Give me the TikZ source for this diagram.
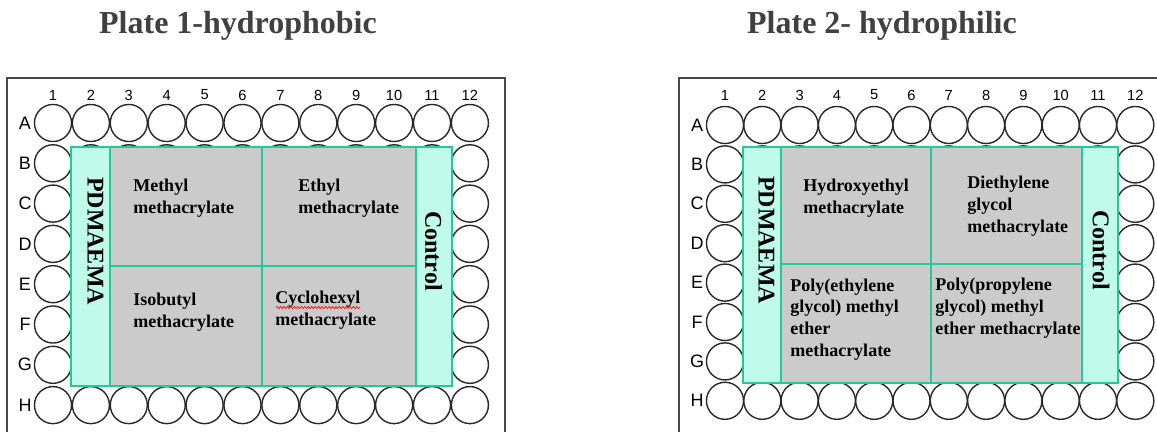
\documentclass[tikz,border=0pt]{standalone}
\usepackage{fontspec}
\setmainfont{Liberation Serif}
\setsansfont{Liberation Sans}
\usetikzlibrary{decorations.pathmorphing}

\definecolor{stripfill}{RGB}{192,250,232}
\definecolor{stripline}{RGB}{40,200,150}
\definecolor{cellfill}{RGB}{203,203,203}
\definecolor{titlegray}{RGB}{64,64,64}
\definecolor{wellline}{RGB}{40,40,40}

\tikzset{
  well/.style={circle, draw=wellline, line width=1.05pt, minimum size=27.8pt, inner sep=0pt},
  rowlab/.style={font=\sffamily\fontsize{13.5}{14}\selectfont, inner sep=0pt},
  collab/.style={font=\sffamily\fontsize{11}{12}\selectfont, inner sep=0pt},
  platebox/.style={draw=wellline!85, line width=1pt},
  strip/.style={fill=stripfill, draw=stripline, line width=1pt},
  cell/.style={fill=cellfill, draw=stripline, line width=1pt},
  % anchored at the baseline of the last line
  celltext/.style={anchor=base west, inner sep=0pt, align=left,
    font=\bfseries\fontsize{13.5}{16.2}\selectfont},
  striptext/.style={rotate=-90, inner sep=0pt, font=\bfseries\fontsize{18}{20}\selectfont},
  platetitle/.style={anchor=base, inner sep=0pt, text=titlegray,
    font=\bfseries\fontsize{24}{28}\selectfont}
}

\begin{document}
\begin{tikzpicture}[x=0.75pt, y=-0.75pt]
\useasboundingbox (0,0) rectangle (1157,432);
\clip (0,0) rectangle (1157,432);

% titles
\node[platetitle] (title1) at (238,33) {Plate 1-hydrophobic};
\node[platetitle] (title2) at (882,33) {Plate 2- hydrophilic};

% plate 1
\begin{scope}
  \draw[platebox] (7,78) rectangle (505,445);
  \foreach \c in {1,...,12}
    \node[collab] (p1-col\c) at ({53+(\c-1)*37.9},95) {\c};
  \foreach \r [count=\i] in {A,B,C,D,E,F,G,H} {
    \node[rowlab] (p1-row\r) at (25,{123+(\i-1)*40.3}) {\r};
    \foreach \c in {1,...,12}
      \node[well] (p1-\r\c) at ({53+(\c-1)*37.9},{123+(\i-1)*40.3}) {};
  }
  % treated wells
  \draw[strip] (71,147) rectangle (110,386);
  \draw[cell] (110,147) rectangle (262,266);
  \draw[cell] (262,147) rectangle (416,266);
  \draw[cell] (110,266) rectangle (262,386);
  \draw[cell] (262,266) rectangle (416,386);
  \draw[strip] (416,147) rectangle (452,386);
  \node[striptext] (p1-pdmaema) at (95.5,241) {PDMAEMA};
  \node[striptext] (p1-control) at (433.5,251) {Control};
  \node[celltext] (p1-mma) at (133,213) {Methyl\\methacrylate};
  \node[celltext] (p1-ema) at (298,213) {Ethyl\\methacrylate};
  \node[celltext] (p1-ibma) at (133,327) {Isobutyl\\methacrylate};
  \node[celltext] (p1-chma) at (275,325) {Cyclohexyl\\methacrylate};
  \draw[red, line width=0.5pt, decorate,
    decoration={snake, amplitude=0.8pt, segment length=2.6pt}]
    (276,307.5) -- (360,307.5);
\end{scope}

% plate 2
\begin{scope}[shift={(672,0)}]
  \draw[platebox] (7,78) rectangle (505,445);
  \foreach \c in {1,...,12}
    \node[collab] (p2-col\c) at ({53+(\c-1)*37.3},95) {\c};
  \foreach \r [count=\i] in {A,B,C,D,E,F,G,H} {
    \node[rowlab] (p2-row\r) at (25,{125+(\i-1)*39.4}) {\r};
    \foreach \c in {1,...,12}
      \node[well] (p2-\r\c) at ({53+(\c-1)*37.3},{125+(\i-1)*39.4}) {};
  }
  % treated wells
  \draw[strip] (71,147) rectangle (109,383);
  \draw[cell] (109,147) rectangle (259,264);
  \draw[cell] (259,147) rectangle (410,264);
  \draw[cell] (109,264) rectangle (259,383);
  \draw[cell] (259,264) rectangle (410,383);
  \draw[strip] (410,147) rectangle (446,383);
  \node[striptext] (p2-pdmaema) at (94.5,240) {PDMAEMA};
  \node[striptext] (p2-control) at (429,250) {Control};
  \node[celltext] (p2-hema) at (131,213) {Hydroxyethyl\\methacrylate};
  \node[celltext] (p2-degma) at (295,232) {Diethylene\\glycol\\methacrylate};
  \node[celltext] (p2-pegma) at (118,356) {Poly(ethylene\\glycol) methyl\\ether\\methacrylate};
  \node[celltext] (p2-ppgma) at (263,334) {Poly(propylene\\glycol) methyl\\ether methacrylate};
\end{scope}
\end{tikzpicture}
\end{document}
